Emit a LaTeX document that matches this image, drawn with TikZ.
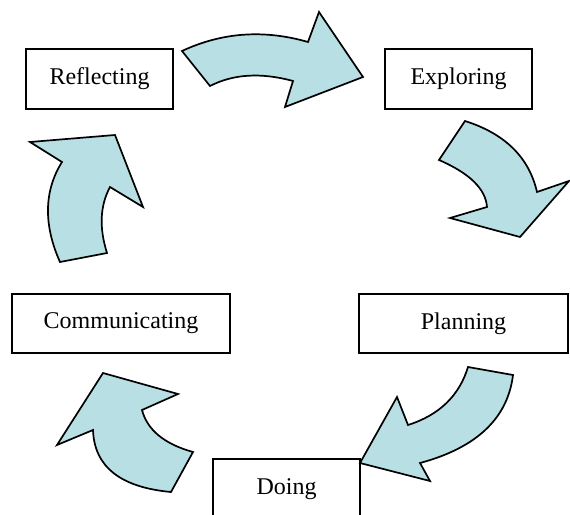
\documentclass[tikz,border=0pt]{standalone}
\usepackage{fontspec}
\setmainfont{Liberation Serif}
\usepackage{tikz}
\usetikzlibrary{positioning}
\usepackage{xcolor}
\definecolor{arrowfill}{RGB}{184,224,228}
\tikzstyle{stage}=[rectangle, draw=black, line width=1.3pt, fill=white,
text centered, inner sep=0pt, font=\fontsize{24}{28}\selectfont]
\tikzstyle{cyclearrow}=[draw=black, line width=1.7pt, line join=miter, fill=arrowfill]

\begin{document}
\begin{tikzpicture}[x=1pt,y=-1pt]
        \useasboundingbox (0,0) rectangle (570,514);

        \node (reflecting)[stage, minimum width=147pt, minimum height=60pt] at (99.5,79) {Reflecting};
        \node (exploring)[stage, minimum width=147pt, minimum height=60pt] at (458.5,79) {Exploring};
        \node (planning)[stage, minimum width=209pt, minimum height=59pt] at (463.5,323.5) {Planning};
        \node (doing)[stage, minimum width=147pt, minimum height=60pt] at (286.5,489) {Doing};
        \node (communicating)[stage, minimum width=218pt, minimum height=59pt] at (121,323.5) {Communicating};

        % reflecting to exploring
        \draw [cyclearrow] (182,51) .. controls (222,32.3) and (264,29.3) .. (308,42) -- (319,12) -- (363,77)
              -- (285,107) -- (293,81) .. controls (261,72.3) and (233.3,74) .. (210,86) -- cycle;
        % exploring to planning
        \draw [cyclearrow] (465,121) .. controls (505,133.7) and (529,157.3) .. (537,192) -- (569,181) -- (520,237)
              -- (450,218) -- (487,207) .. controls (485.7,189) and (469.7,173.3) .. (439,160) -- cycle;
        % planning to doing
        \draw [cyclearrow] (468,367) -- (513,375) .. controls (507.7,418.3) and (476.7,447.7) .. (420,463) -- (430,481)
              -- (360,463) -- (397,397) -- (408,425) .. controls (439.3,415) and (459.3,395.7) .. (468,367) -- cycle;
        % doing to communicating
        \draw [cyclearrow] (193,452) -- (171,492) .. controls (120.3,487.3) and (94.3,466.7) .. (93,430) -- (57,445)
              -- (103,373) -- (178,394) -- (142,410) .. controls (147.3,430) and (164.3,444) .. (193,452) -- cycle;
        % communicating to reflecting
        \draw [cyclearrow] (60,262) -- (107,253) .. controls (99,227.7) and (100,205.7) .. (110,187) -- (143,207)
              -- (115,135) -- (30,142) -- (62,162) .. controls (44,190.7) and (43.3,224.7) .. (60,262) -- cycle;
\end{tikzpicture}
\end{document}
